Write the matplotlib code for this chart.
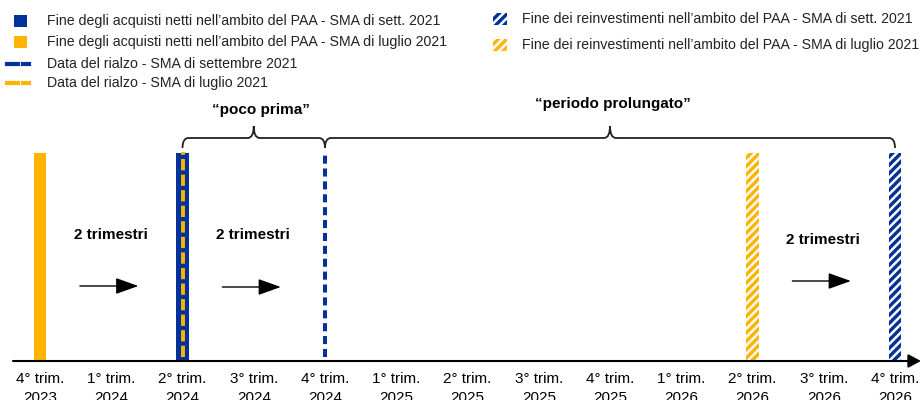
import matplotlib
matplotlib.use('Agg')
import matplotlib.pyplot as plt
from matplotlib.patches import Rectangle, PathPatch
from matplotlib.path import Path
from matplotlib.lines import Line2D

plt.rcParams['font.family'] = ['Liberation Sans', 'DejaVu Sans']
plt.rcParams['hatch.linewidth'] = 1.8

BLUE = '#003299'
YELLOW = '#FFB400'

# timeline categories
quarters = ['4° trim.\n2023', '1° trim.\n2024', '2° trim.\n2024', '3° trim.\n2024', '4° trim.\n2024',
            '1° trim.\n2025', '2° trim.\n2025', '3° trim.\n2025', '4° trim.\n2025',
            '1° trim.\n2026', '2° trim.\n2026', '3° trim.\n2026', '4° trim.\n2026']

# events (index into quarters)
end_app_sept = 2          # fine acquisti netti - SMA sett. 2021
end_app_july = 0          # fine acquisti netti - SMA luglio 2021
hike_sept = 4             # rialzo - SMA settembre 2021
hike_july = 2             # rialzo - SMA luglio 2021
end_reinv_sept = 12       # fine reinvestimenti - SMA sett. 2021
end_reinv_july = 10       # fine reinvestimenti - SMA luglio 2021

gap_labels = ['2 trimestri', '2 trimestri', '2 trimestri']
gap_from = [end_app_july, end_app_sept, end_reinv_july]
brace_labels = ['\u201cpoco prima\u201d', '\u201cperiodo prolungato\u201d']

# layout in pixels: quarter 0 sits at x=40, one quarter = 71.25 px, axis line at row 361
X0, DX, BASE = 40, 71.25, 361


def qx(px):
    return (px - X0) / DX


def qy(row):
    return BASE - row


fig = plt.figure(figsize=(9.21, 4), dpi=100)
ax = fig.add_axes([0, (400 - BASE) / 400, 1, BASE / 400])
ax.set_xlim(qx(0), qx(921))
ax.set_ylim(0, BASE)
ax.patch.set_alpha(0)
for s in ax.spines.values():
    s.set_visible(False)
ax.set_yticks([])
ax.set_xticks(range(len(quarters)), quarters)
ax.tick_params(axis='x', length=0, pad=8, labelsize=11)
for t in ax.get_xticklabels():
    t.set_linespacing(1.45)

bar_h = qy(153)
bw = 12.5 / DX
ax.bar(end_app_july, bar_h, width=bw, color=YELLOW, zorder=2)
ax.bar(end_app_sept, bar_h, width=bw, color=BLUE, zorder=2)
ax.bar(end_reinv_july, bar_h, width=bw, color=YELLOW, edgecolor='white', hatch='////', linewidth=0, zorder=2)
ax.bar(end_reinv_sept, bar_h, width=bw, color=BLUE, edgecolor='white', hatch='////', linewidth=0, zorder=2)
ax.plot([hike_july, hike_july], [qy(357), qy(152)], color=YELLOW, lw=2.8, dashes=(2.9, 1.1), zorder=3)
ax.plot([hike_sept, hike_sept], [qy(357), qy(153)], color=BLUE, lw=2.9, dashes=(2.0, 1.2), zorder=3)

# timeline axis with arrowhead
ax.annotate('', xy=(qx(921), 0), xytext=(qx(13), 0), annotation_clip=False,
            arrowprops=dict(arrowstyle='-|>,head_length=0.75,head_width=0.4', mutation_scale=10,
                            lw=1.5, color='black', shrinkA=0, shrinkB=0))

# "2 trimestri" labels with arrows
txt_rows = [235, 235, 240]
arr_rows = [286, 287, 281]
for i, lab in enumerate(gap_labels):
    c = gap_from[i] + 1
    ax.text(c - 0.01, qy(txt_rows[i]), lab, ha='center', va='center', fontsize=11, fontweight='bold')
    ax.annotate('', xy=(c + 0.38, qy(arr_rows[i])), xytext=(c - 0.44, qy(arr_rows[i])),
                arrowprops=dict(arrowstyle='-|>,head_length=1.4,head_width=0.5', mutation_scale=10,
                                lw=1, color='black', shrinkA=0, shrinkB=0))


# braces
def brace(x1, x2, y_line, y_end, y_tip):
    xm = (x1 + x2) / 2
    d = 6 / DX
    verts = [(x1, y_end), (x1, y_line), (x1 + d, y_line),
             (xm - d, y_line), (xm, y_line), (xm, y_tip),
             (xm, y_line), (xm + d, y_line),
             (x2 - d, y_line), (x2, y_line), (x2, y_end)]
    codes = [Path.MOVETO, Path.CURVE3, Path.CURVE3,
             Path.LINETO, Path.CURVE3, Path.CURVE3,
             Path.CURVE3, Path.CURVE3,
             Path.LINETO, Path.CURVE3, Path.CURVE3]
    ax.add_patch(PathPatch(Path(verts, codes), fill=False, lw=1.3, edgecolor='#222222', zorder=4))


brace(hike_july, hike_sept, qy(138), qy(148), qy(126))
brace(hike_sept, end_reinv_sept, qy(138), qy(148), qy(126))
ax.text(qx(261), qy(110), brace_labels[0], ha='center', va='center', fontsize=11, fontweight='bold')
ax.text(qx(613), qy(104), brace_labels[1], ha='center', va='center', fontsize=11, fontweight='bold')

# legend (pixel coordinates)
lg = fig.add_axes([0, 0, 1, 1])
lg.set_xlim(0, 921)
lg.set_ylim(400, 0)
lg.axis('off')

left_items = [
    ('box', BLUE, 'Fine degli acquisti netti nell\u2019ambito del PAA - SMA di sett. 2021', 21),
    ('box', YELLOW, 'Fine degli acquisti netti nell\u2019ambito del PAA - SMA di luglio 2021', 42),
    ('dash', BLUE, 'Data del rialzo - SMA di settembre 2021', 64),
    ('dash', YELLOW, 'Data del rialzo - SMA di luglio 2021', 83),
]
for kind, col, lab, row in left_items:
    if kind == 'box':
        lg.add_patch(Rectangle((13.5, row - 6), 13, 12, color=col, lw=0))
    else:
        lg.add_line(Line2D([7, 18], [row, row], color=col, lw=3))
        lg.add_line(Line2D([23, 28.5], [row, row], color=col, lw=3))
    lg.text(47, row, lab, ha='left', va='center', fontsize=10.2, color='#222222')

right_items = [
    (BLUE, 'Fine dei reinvestimenti nell\u2019ambito del PAA - SMA di sett. 2021', 19),
    (YELLOW, 'Fine dei reinvestimenti nell\u2019ambito del PAA - SMA di luglio 2021', 45),
]
for col, lab, row in right_items:
    lg.add_patch(Rectangle((493, row - 6), 14, 12, facecolor=col, edgecolor='white', hatch='////', lw=0))
    lg.text(522, row, lab, ha='left', va='center', fontsize=10.2, color='#222222')

fig.savefig('out.png', dpi=100)
